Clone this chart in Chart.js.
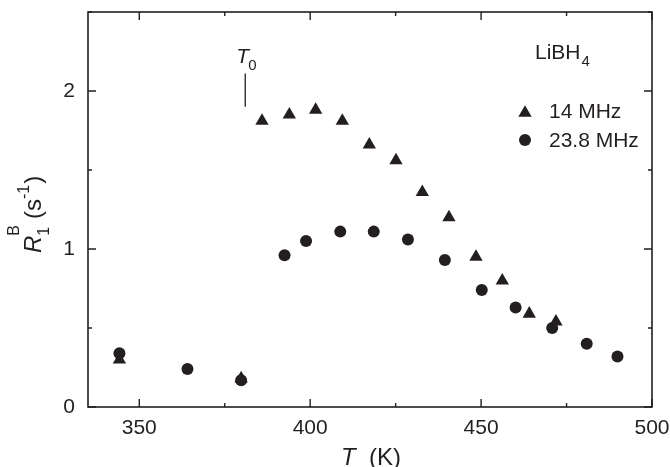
<!DOCTYPE html>
<html>
<head>
<meta charset="utf-8">
<script src="https://cdn.jsdelivr.net/npm/chart.js@4/dist/chart.umd.min.js"></script>
<style>
  html, body { margin: 0; padding: 0; background: #fff; }
  canvas { display: block; }
</style>
</head>
<body>
<canvas id="myChart" width="670" height="467"></canvas>
<script>
// 14 MHz (triangles)
let t14 = [344.2, 379.8, 385.9, 393.9, 401.6, 409.4, 417.3, 425.1, 432.8, 440.6, 448.5, 456.2, 464.1, 471.9];
let r14 = [0.30, 0.18, 1.81, 1.85, 1.88, 1.81, 1.66, 1.56, 1.36, 1.20, 0.95, 0.80, 0.59, 0.54];
// 23.8 MHz (circles)
let t238 = [344.2, 364.1, 379.8, 392.5, 398.8, 408.8, 418.6, 428.6, 439.4, 450.2, 460.1, 470.8, 480.9, 489.9];
let r238 = [0.34, 0.24, 0.17, 0.96, 1.05, 1.11, 1.11, 1.06, 0.93, 0.74, 0.63, 0.50, 0.40, 0.32];

let xMajor = [350, 400, 450, 500];
let xMinor = [375, 425, 475];
let yMajor = [0, 1, 2];
let yMinor = [0.5, 1.5, 2.5];
let seriesLabels = ['14 MHz', '23.8 MHz'];
let T0 = 381;

const INK = '#231f20';
const FONT = '"Liberation Sans", Arial, sans-serif';

function toPoints(xs, ys){
    return xs.map((x, i) => ({x: x, y: ys[i]}));
}

function noPad(s){
    s.paddingLeft = 0; s.paddingRight = 0;
    s.paddingTop = 0; s.paddingBottom = 0;
}

// draws the box, inward ticks, titles, annotations and legend
const framePlugin = {
    id: 'frame',
    afterDraw(chart){
        let ctx = chart.ctx;
        let a = chart.chartArea;
        let xs = chart.scales.x, ys = chart.scales.y;
        ctx.save();
        ctx.strokeStyle = INK;
        ctx.lineWidth = 1.6;
        ctx.strokeRect(a.left, a.top, a.right - a.left, a.bottom - a.top);

        ctx.lineWidth = 1.4;
        ctx.beginPath();
        let xt = (v, len) => {
            let p = xs.getPixelForValue(v);
            ctx.moveTo(p, a.bottom); ctx.lineTo(p, a.bottom - len);
            ctx.moveTo(p, a.top); ctx.lineTo(p, a.top + len);
        };
        let yt = (v, len) => {
            let p = ys.getPixelForValue(v);
            ctx.moveTo(a.left, p); ctx.lineTo(a.left + len, p);
            ctx.moveTo(a.right, p); ctx.lineTo(a.right - len, p);
        };
        xMajor.forEach(v => xt(v, 8));
        xMinor.forEach(v => xt(v, 4));
        yMajor.forEach(v => yt(v, 8));
        yMinor.forEach(v => yt(v, 4));
        ctx.stroke();

        ctx.fillStyle = INK;
        ctx.textBaseline = 'alphabetic';

        // x title: T (K)
        ctx.font = 'italic 24px ' + FONT;
        ctx.fillText('T', 341, 465);
        let tW = ctx.measureText('T').width;
        ctx.font = '24px ' + FONT;
        ctx.fillText('  (K)', 341 + tW, 465);

        // y title: R1^B (s^-1)
        ctx.save();
        ctx.translate(41, 253);
        ctx.rotate(-Math.PI / 2);
        let x = 0;
        ctx.font = 'italic 24px ' + FONT;
        ctx.fillText('R', x, 0); x += ctx.measureText('R').width;
        ctx.font = '16px ' + FONT;
        ctx.fillText('1', x, 8);
        ctx.fillText('B', x, -22); x += ctx.measureText('B').width + 6;
        ctx.font = '24px ' + FONT;
        ctx.fillText('(s', x, 0); x += ctx.measureText('(s').width;
        ctx.font = '16px ' + FONT;
        ctx.fillText('-1', x, -12); x += ctx.measureText('-1').width + 1;
        ctx.font = '24px ' + FONT;
        ctx.fillText(')', x, 0);
        ctx.restore();

        // T0 marker
        let px0 = xs.getPixelForValue(T0);
        ctx.lineWidth = 1.3;
        ctx.beginPath();
        ctx.moveTo(px0, ys.getPixelForValue(2.11));
        ctx.lineTo(px0, ys.getPixelForValue(1.90));
        ctx.stroke();
        ctx.font = 'italic 21px ' + FONT;
        ctx.fillText('T', px0 - 9, 63);
        ctx.font = '15px ' + FONT;
        ctx.fillText('0', px0 + 3, 70);

        // LiBH4
        ctx.font = '21px ' + FONT;
        let lx = a.right - 117;
        ctx.fillText('LiBH', lx, 59);
        let lw = ctx.measureText('LiBH').width;
        ctx.font = '15px ' + FONT;
        ctx.fillText('4', lx + lw + 1, 66);

        // legend
        let legY = [118, 147];
        chart.data.datasets.forEach((ds, i) => {
            Chart.helpers.drawPoint(ctx, {
                pointStyle: ds.pointStyle, radius: ds.pointRadius, borderWidth: 0
            }, a.right - 127, legY[i] - (i == 0 ? 5 : 7));
            ctx.fillStyle = INK;
            ctx.font = '21px ' + FONT;
            ctx.fillText(seriesLabels[i], a.right - 103, legY[i]);
        });
        ctx.restore();
    }
};

let ctx = document.getElementById('myChart').getContext('2d');
let chart = new Chart(ctx, {
    type: 'scatter',
    data: {
        datasets: [
            {
                label: seriesLabels[0],
                data: toPoints(t14, r14),
                pointStyle: 'triangle',
                pointRadius: 7.7,
                backgroundColor: INK,
                borderColor: INK,
                borderWidth: 0
            },
            {
                label: seriesLabels[1],
                data: toPoints(t238, r238),
                pointStyle: 'circle',
                pointRadius: 6,
                backgroundColor: INK,
                borderColor: INK,
                borderWidth: 0
            }
        ]
    },
    options: {
        responsive: false,
        animation: false,
        devicePixelRatio: 1,
        layout: { padding: { top: 12, right: 18, left: 0, bottom: 0 } },
        plugins: { legend: { display: false }, tooltip: { enabled: false } },
        scales: {
            x: {
                type: 'linear', min: 335, max: 500,
                afterBuildTicks: s => { s.ticks = xMajor.map(v => ({value: v})); },
                afterFit: s => { s.height = 60; noPad(s); },
                grid: { display: false, drawTicks: false },
                border: { display: false },
                ticks: { color: INK, font: { size: 21, family: FONT }, padding: 9, maxRotation: 0 }
            },
            y: {
                type: 'linear', min: 0, max: 2.5,
                afterBuildTicks: s => { s.ticks = yMajor.map(v => ({value: v})); },
                afterFit: s => { s.width = 88; noPad(s); },
                grid: { display: false, drawTicks: false },
                border: { display: false },
                ticks: { color: INK, font: { size: 21, family: FONT }, padding: 13 }
            }
        }
    },
    plugins: [framePlugin]
});
</script>
</body>
</html>
